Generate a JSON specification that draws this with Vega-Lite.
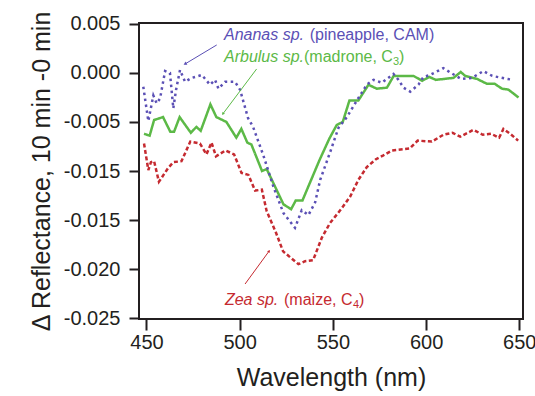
{
  "$schema": "https://vega.github.io/schema/vega-lite/v6.json",
  "width": 384,
  "height": 296,
  "autosize": {"type": "none"},
  "padding": {"left": 139, "top": 23, "right": 12, "bottom": 77},
  "background": "white",
  "config": {
    "font": "Liberation Sans",
    "view": {"stroke": "#231f20", "strokeWidth": 2},
    "axis": {"grid": false, "domain": false, "tickColor": "#231f20", "tickWidth": 2, "labelColor": "#231f20", "titleColor": "#231f20", "labelFont": "Liberation Sans", "titleFont": "Liberation Sans", "titleFontWeight": "normal"}
  },
  "datasets": {
    "curves": [
      {"series": "Arbulus", "wl": 448.7, "r": -0.0062},
      {"series": "Arbulus", "wl": 451.7, "r": -0.0064},
      {"series": "Arbulus", "wl": 454.1, "r": -0.0048},
      {"series": "Arbulus", "wl": 458.9, "r": -0.0045},
      {"series": "Arbulus", "wl": 462.8, "r": -0.0060},
      {"series": "Arbulus", "wl": 464.8, "r": -0.0060},
      {"series": "Arbulus", "wl": 467.8, "r": -0.0045},
      {"series": "Arbulus", "wl": 473.8, "r": -0.0061},
      {"series": "Arbulus", "wl": 476.8, "r": -0.0055},
      {"series": "Arbulus", "wl": 479.1, "r": -0.0059},
      {"series": "Arbulus", "wl": 484.3, "r": -0.0032},
      {"series": "Arbulus", "wl": 487.5, "r": -0.0045},
      {"series": "Arbulus", "wl": 492.9, "r": -0.0050},
      {"series": "Arbulus", "wl": 498.2, "r": -0.0066},
      {"series": "Arbulus", "wl": 500.9, "r": -0.0057},
      {"series": "Arbulus", "wl": 504.1, "r": -0.0071},
      {"series": "Arbulus", "wl": 506.3, "r": -0.0073},
      {"series": "Arbulus", "wl": 512.0, "r": -0.0100},
      {"series": "Arbulus", "wl": 514.5, "r": -0.0098},
      {"series": "Arbulus", "wl": 523.5, "r": -0.0134},
      {"series": "Arbulus", "wl": 527.6, "r": -0.0139},
      {"series": "Arbulus", "wl": 530.1, "r": -0.0130},
      {"series": "Arbulus", "wl": 533.7, "r": -0.0130},
      {"series": "Arbulus", "wl": 542.8, "r": -0.0089},
      {"series": "Arbulus", "wl": 548.1, "r": -0.0067},
      {"series": "Arbulus", "wl": 552.1, "r": -0.0053},
      {"series": "Arbulus", "wl": 555.3, "r": -0.0050},
      {"series": "Arbulus", "wl": 558.9, "r": -0.0028},
      {"series": "Arbulus", "wl": 563.7, "r": -0.0028},
      {"series": "Arbulus", "wl": 569.1, "r": -0.0012},
      {"series": "Arbulus", "wl": 573.5, "r": -0.0016},
      {"series": "Arbulus", "wl": 579.0, "r": -0.0015},
      {"series": "Arbulus", "wl": 582.6, "r": -0.0003},
      {"series": "Arbulus", "wl": 593.3, "r": -0.0003},
      {"series": "Arbulus", "wl": 597.9, "r": -0.0008},
      {"series": "Arbulus", "wl": 601.7, "r": -0.0004},
      {"series": "Arbulus", "wl": 605.2, "r": -0.0007},
      {"series": "Arbulus", "wl": 614.7, "r": -0.0005},
      {"series": "Arbulus", "wl": 618.6, "r": 0.0001},
      {"series": "Arbulus", "wl": 621.0, "r": -0.0003},
      {"series": "Arbulus", "wl": 627.3, "r": -0.0006},
      {"series": "Arbulus", "wl": 632.6, "r": -0.0011},
      {"series": "Arbulus", "wl": 636.8, "r": -0.0011},
      {"series": "Arbulus", "wl": 640.7, "r": -0.0016},
      {"series": "Arbulus", "wl": 644.2, "r": -0.0017},
      {"series": "Arbulus", "wl": 649.6, "r": -0.0025},
      {"series": "Ananas", "wl": 448.3, "r": -0.0014},
      {"series": "Ananas", "wl": 451.0, "r": -0.0049},
      {"series": "Ananas", "wl": 453.7, "r": -0.0023},
      {"series": "Ananas", "wl": 455.5, "r": -0.0031},
      {"series": "Ananas", "wl": 457.3, "r": -0.0026},
      {"series": "Ananas", "wl": 460.0, "r": 0.0002},
      {"series": "Ananas", "wl": 462.6, "r": 0.0000},
      {"series": "Ananas", "wl": 464.4, "r": -0.0036},
      {"series": "Ananas", "wl": 465.9, "r": -0.0017},
      {"series": "Ananas", "wl": 468.0, "r": 0.0003},
      {"series": "Ananas", "wl": 470.7, "r": -0.0009},
      {"series": "Ananas", "wl": 474.3, "r": -0.0005},
      {"series": "Ananas", "wl": 479.7, "r": -0.0002},
      {"series": "Ananas", "wl": 484.1, "r": -0.0012},
      {"series": "Ananas", "wl": 486.8, "r": -0.0007},
      {"series": "Ananas", "wl": 488.6, "r": -0.0016},
      {"series": "Ananas", "wl": 492.2, "r": -0.0009},
      {"series": "Ananas", "wl": 497.5, "r": -0.0009},
      {"series": "Ananas", "wl": 500.2, "r": -0.0017},
      {"series": "Ananas", "wl": 504.5, "r": -0.0046},
      {"series": "Ananas", "wl": 507.2, "r": -0.0055},
      {"series": "Ananas", "wl": 512.7, "r": -0.0084},
      {"series": "Ananas", "wl": 518.1, "r": -0.0116},
      {"series": "Ananas", "wl": 523.5, "r": -0.0143},
      {"series": "Ananas", "wl": 529.7, "r": -0.0158},
      {"series": "Ananas", "wl": 533.3, "r": -0.0140},
      {"series": "Ananas", "wl": 536.9, "r": -0.0145},
      {"series": "Ananas", "wl": 540.5, "r": -0.0132},
      {"series": "Ananas", "wl": 543.2, "r": -0.0109},
      {"series": "Ananas", "wl": 548.5, "r": -0.0081},
      {"series": "Ananas", "wl": 553.0, "r": -0.0056},
      {"series": "Ananas", "wl": 557.5, "r": -0.0045},
      {"series": "Ananas", "wl": 562.9, "r": -0.0028},
      {"series": "Ananas", "wl": 568.2, "r": -0.0012},
      {"series": "Ananas", "wl": 571.8, "r": -0.0007},
      {"series": "Ananas", "wl": 576.3, "r": -0.0010},
      {"series": "Ananas", "wl": 582.5, "r": -0.0001},
      {"series": "Ananas", "wl": 585.2, "r": -0.0007},
      {"series": "Ananas", "wl": 587.9, "r": -0.0015},
      {"series": "Ananas", "wl": 591.5, "r": -0.0019},
      {"series": "Ananas", "wl": 595.9, "r": -0.0012},
      {"series": "Ananas", "wl": 598.6, "r": -0.0004},
      {"series": "Ananas", "wl": 602.2, "r": -0.0002},
      {"series": "Ananas", "wl": 609.3, "r": 0.0005},
      {"series": "Ananas", "wl": 613.4, "r": 0.0000},
      {"series": "Ananas", "wl": 618.8, "r": -0.0006},
      {"series": "Ananas", "wl": 624.6, "r": -0.0005},
      {"series": "Ananas", "wl": 630.8, "r": 0.0002},
      {"series": "Ananas", "wl": 635.5, "r": -0.0003},
      {"series": "Ananas", "wl": 643.4, "r": -0.0006},
      {"series": "Ananas", "wl": 646.6, "r": -0.0007},
      {"series": "Zea", "wl": 448.7, "r": -0.0072},
      {"series": "Zea", "wl": 451.0, "r": -0.0099},
      {"series": "Zea", "wl": 452.4, "r": -0.0091},
      {"series": "Zea", "wl": 454.1, "r": -0.0090},
      {"series": "Zea", "wl": 456.7, "r": -0.0111},
      {"series": "Zea", "wl": 461.6, "r": -0.0097},
      {"series": "Zea", "wl": 464.4, "r": -0.0091},
      {"series": "Zea", "wl": 468.8, "r": -0.0090},
      {"series": "Zea", "wl": 473.5, "r": -0.0070},
      {"series": "Zea", "wl": 478.7, "r": -0.0072},
      {"series": "Zea", "wl": 482.2, "r": -0.0083},
      {"series": "Zea", "wl": 484.9, "r": -0.0071},
      {"series": "Zea", "wl": 487.3, "r": -0.0085},
      {"series": "Zea", "wl": 492.4, "r": -0.0079},
      {"series": "Zea", "wl": 497.0, "r": -0.0083},
      {"series": "Zea", "wl": 501.0, "r": -0.0102},
      {"series": "Zea", "wl": 504.7, "r": -0.0104},
      {"series": "Zea", "wl": 508.3, "r": -0.0120},
      {"series": "Zea", "wl": 511.9, "r": -0.0119},
      {"series": "Zea", "wl": 514.5, "r": -0.0141},
      {"series": "Zea", "wl": 519.5, "r": -0.0163},
      {"series": "Zea", "wl": 523.3, "r": -0.0182},
      {"series": "Zea", "wl": 531.5, "r": -0.0195},
      {"series": "Zea", "wl": 535.1, "r": -0.0192},
      {"series": "Zea", "wl": 539.4, "r": -0.0191},
      {"series": "Zea", "wl": 544.1, "r": -0.0168},
      {"series": "Zea", "wl": 548.5, "r": -0.0153},
      {"series": "Zea", "wl": 554.8, "r": -0.0138},
      {"series": "Zea", "wl": 559.3, "r": -0.0126},
      {"series": "Zea", "wl": 563.7, "r": -0.0109},
      {"series": "Zea", "wl": 568.2, "r": -0.0096},
      {"series": "Zea", "wl": 573.1, "r": -0.0088},
      {"series": "Zea", "wl": 577.1, "r": -0.0084},
      {"series": "Zea", "wl": 581.8, "r": -0.0079},
      {"series": "Zea", "wl": 591.2, "r": -0.0077},
      {"series": "Zea", "wl": 595.5, "r": -0.0069},
      {"series": "Zea", "wl": 603.1, "r": -0.0070},
      {"series": "Zea", "wl": 609.3, "r": -0.0063},
      {"series": "Zea", "wl": 614.2, "r": -0.0061},
      {"series": "Zea", "wl": 618.3, "r": -0.0065},
      {"series": "Zea", "wl": 625.4, "r": -0.0058},
      {"series": "Zea", "wl": 630.4, "r": -0.0063},
      {"series": "Zea", "wl": 634.9, "r": -0.0062},
      {"series": "Zea", "wl": 639.2, "r": -0.0066},
      {"series": "Zea", "wl": 641.5, "r": -0.0057},
      {"series": "Zea", "wl": 645.1, "r": -0.0062},
      {"series": "Zea", "wl": 649.4, "r": -0.0069}
    ],
    "leaders": [
      {"series": "Ananas", "x": 487.7, "y": 0.00286, "x2": 470.7, "y2": 0.00092},
      {"series": "Arbulus", "x": 509.1, "y": 0.00041, "x2": 491.0, "y2": -0.00417},
      {"series": "Zea", "x": 502.9, "y": -0.02153, "x2": 515.8, "y2": -0.01817}
    ],
    "labels": [
      {"series": "Ananas", "part": "italic", "text": "Ananas sp.", "x": 491.6, "y": 0.00388},
      {"series": "Ananas", "part": "normal", "text": "(pineapple, CAM)", "x": 537.6, "y": 0.00388},
      {"series": "Arbulus", "part": "italic", "text": "Arbulus sp.", "x": 491.6, "y": 0.00166},
      {"series": "Arbulus", "part": "normal", "text": "(madrone, C", "x": 534.5, "y": 0.00166},
      {"series": "Arbulus", "part": "sub", "text": "3", "x": 582.3, "y": 0.00114},
      {"series": "Arbulus", "part": "normal", "text": ")", "x": 585.5, "y": 0.00166},
      {"series": "Zea", "part": "italic", "text": "Zea sp.", "x": 492.1, "y": -0.02317},
      {"series": "Zea", "part": "normal", "text": "(maize, C", "x": 523.8, "y": -0.02317},
      {"series": "Zea", "part": "sub", "text": "4", "x": 560.8, "y": -0.02369},
      {"series": "Zea", "part": "normal", "text": ")", "x": 564.0, "y": -0.02317}
    ]
  },
  "layer": [
    {
      "data": {"name": "curves"},
      "mark": {"type": "line", "strokeWidth": 2.5},
      "encoding": {
        "x": {"field": "wl", "type": "quantitative", "scale": {"domain": [446, 652], "nice": false, "zero": false},
          "axis": {"values": [450, 500, 550, 600, 650], "title": "Wavelength (nm)", "tickSize": 11, "labelFontSize": 20, "labelPadding": 2, "labelFlush": false, "titleFontSize": 25, "titlePadding": 13}},
        "y": {"field": "r", "type": "quantitative", "scale": {"domain": [-0.0251, 0.0051], "nice": false, "zero": false},
          "axis": {"values": [-0.025, -0.02, -0.015, -0.01, -0.005, 0, 0.005], "labelExpr": "abs(datum.value + 0.01) < 0.0001 ? '-0.015' : replace(format(datum.value, '.3f'), '\u2212', '-')", "title": "Δ Reflectance, 10 min -0 min", "tickSize": 10, "labelFontSize": 20, "labelPadding": 9, "labelFlush": false, "titleFontSize": 25, "titlePadding": 9}},
        "color": {"field": "series", "type": "nominal", "scale": {"domain": ["Ananas", "Arbulus", "Zea"], "range": ["#5b50b5", "#5cb947", "#c52a30"]}, "legend": null},
        "strokeDash": {"field": "series", "type": "nominal", "scale": {"domain": ["Ananas", "Arbulus", "Zea"], "range": [[2.5, 3.5], [1, 0], [4, 2.5]]}, "legend": null}
      }
    },
    {
      "mark": {"type": "rule", "color": "#231f20", "strokeWidth": 1},
      "encoding": {"y": {"datum": 0, "type": "quantitative"}}
    },
    {
      "data": {"name": "leaders"},
      "mark": {"type": "rule", "strokeWidth": 1},
      "encoding": {
        "x": {"field": "x", "type": "quantitative"},
        "y": {"field": "y", "type": "quantitative"},
        "x2": {"field": "x2"},
        "y2": {"field": "y2"},
        "color": {"field": "series", "type": "nominal", "legend": null}
      }
    },
    {
      "data": {"name": "leaders"},
      "transform": [{"filter": "datum.series == 'Ananas'"}],
      "mark": {"type": "point", "shape": "triangle-up", "filled": true, "size": 14, "angle": 239, "opacity": 1},
      "encoding": {"x": {"field": "x2", "type": "quantitative"}, "y": {"field": "y2", "type": "quantitative"}, "color": {"field": "series", "type": "nominal", "legend": null}}
    },
    {
      "data": {"name": "leaders"},
      "transform": [{"filter": "datum.series == 'Arbulus'"}],
      "mark": {"type": "point", "shape": "triangle-up", "filled": true, "size": 10, "angle": 217, "opacity": 1},
      "encoding": {"x": {"field": "x2", "type": "quantitative"}, "y": {"field": "y2", "type": "quantitative"}, "color": {"field": "series", "type": "nominal", "legend": null}}
    },
    {
      "data": {"name": "leaders"},
      "transform": [{"filter": "datum.series == 'Zea'"}],
      "mark": {"type": "point", "shape": "triangle-up", "filled": true, "size": 10, "angle": 36, "opacity": 1},
      "encoding": {"x": {"field": "x2", "type": "quantitative"}, "y": {"field": "y2", "type": "quantitative"}, "color": {"field": "series", "type": "nominal", "legend": null}}
    },
    {
      "data": {"name": "labels"},
      "transform": [{"filter": "datum.part == 'italic'"}],
      "mark": {"type": "text", "fontStyle": "italic", "fontSize": 16, "align": "left", "baseline": "middle"},
      "encoding": {"x": {"field": "x", "type": "quantitative"}, "y": {"field": "y", "type": "quantitative"}, "text": {"field": "text"}, "color": {"field": "series", "type": "nominal", "legend": null}}
    },
    {
      "data": {"name": "labels"},
      "transform": [{"filter": "datum.part == 'normal'"}],
      "mark": {"type": "text", "fontSize": 16, "align": "left", "baseline": "middle"},
      "encoding": {"x": {"field": "x", "type": "quantitative"}, "y": {"field": "y", "type": "quantitative"}, "text": {"field": "text"}, "color": {"field": "series", "type": "nominal", "legend": null}}
    },
    {
      "data": {"name": "labels"},
      "transform": [{"filter": "datum.part == 'sub'"}],
      "mark": {"type": "text", "fontSize": 11, "align": "left", "baseline": "middle"},
      "encoding": {"x": {"field": "x", "type": "quantitative"}, "y": {"field": "y", "type": "quantitative"}, "text": {"field": "text"}, "color": {"field": "series", "type": "nominal", "legend": null}}
    }
  ]
}
